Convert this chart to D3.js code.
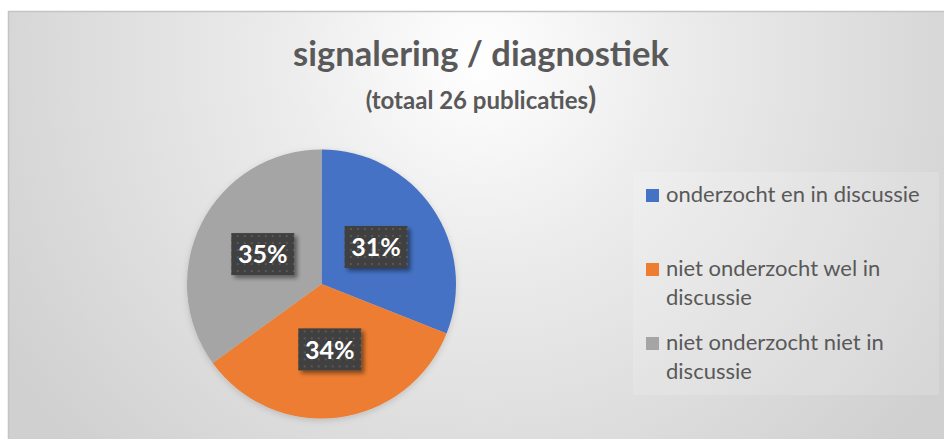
<!DOCTYPE html>
<html>
<head>
<meta charset="utf-8">
<script src="https://cdn.jsdelivr.net/npm/d3@7"></script>
<style>
  html, body { margin: 0; padding: 0; background: #fff; }
  svg { display: block; }
</style>
</head>
<body>
<div id="chart"></div>
<script>
// data
var categories = ["onderzocht en in discussie", "niet onderzocht wel in discussie", "niet onderzocht niet in discussie"];
var values = [31, 34, 35];
var legendLines = [["onderzocht en in discussie"], ["niet onderzocht wel in", "discussie"], ["niet onderzocht niet in", "discussie"]];
var sliceColors = ["#4472C4", "#ED7D31", "#A5A5A5"];

var W = 944, H = 439;
var font = "Lato, 'Open Sans', sans-serif";

var svg = d3.select("#chart").append("svg")
    .attr("width", W)
    .attr("height", H);

var defs = svg.append("defs");

// chart area background
var grad = defs.append("radialGradient")
    .attr("id", "bg")
    .attr("gradientUnits", "userSpaceOnUse")
    .attr("cx", 480).attr("cy", 60).attr("r", 560);
grad.append("stop").attr("offset", "0%").attr("stop-color", "#ffffff");
grad.append("stop").attr("offset", "35%").attr("stop-color", "#ececec");
grad.append("stop").attr("offset", "100%").attr("stop-color", "#d0d0d0");

// dotted fill of the label boxes
var pat = defs.append("pattern")
    .attr("id", "dots")
    .attr("patternUnits", "userSpaceOnUse")
    .attr("width", 7).attr("height", 7);
pat.append("rect").attr("width", 7).attr("height", 7).attr("fill", "#404040");
pat.append("rect").attr("x", 2).attr("y", 2).attr("width", 2).attr("height", 2).attr("fill", "#585858");

var shadow = defs.append("filter").attr("id", "shadow")
    .attr("x", "-30%").attr("y", "-30%").attr("width", "160%").attr("height", "160%");
shadow.append("feDropShadow")
    .attr("dx", 3).attr("dy", 3).attr("stdDeviation", 2)
    .attr("flood-color", "#000").attr("flood-opacity", 0.45);

var pieShadow = defs.append("filter").attr("id", "pieShadow")
    .attr("x", "-20%").attr("y", "-20%").attr("width", "140%").attr("height", "140%");
pieShadow.append("feDropShadow")
    .attr("dx", 0).attr("dy", 2).attr("stdDeviation", 3)
    .attr("flood-color", "#000").attr("flood-opacity", 0.15);

svg.append("rect")
    .attr("x", 8.5).attr("y", 11.5)
    .attr("width", W).attr("height", H)
    .attr("fill", "url(#bg)")
    .attr("stroke", "#c4c4c4")
    .attr("stroke-width", 1.5);

// title
svg.append("text")
    .attr("x", 481).attr("y", 66)
    .attr("text-anchor", "middle")
    .attr("font-family", font)
    .attr("font-weight", "bold")
    .attr("font-size", 34.5)
    .attr("fill", "#595959")
    .text("signalering / diagnostiek");

var sub = svg.append("text")
    .attr("x", 481).attr("y", 109)
    .attr("text-anchor", "middle")
    .attr("font-family", font)
    .attr("font-weight", "bold")
    .attr("font-size", 24)
    .attr("fill", "#595959");
sub.append("tspan").text("(totaal 26 publicaties");
sub.append("tspan").attr("font-size", 30).text(")");

// pie
var cx = 321.5, cy = 284, radius = 134.5;

var pie = d3.pie().sort(null).value(function(d) { return d; });
var arcs = pie(values);
var arc = d3.arc().innerRadius(0).outerRadius(radius);
var labelArc = d3.arc().innerRadius(radius * 0.49).outerRadius(radius * 0.49);
var color = d3.scaleOrdinal().domain(categories).range(sliceColors);

var g = svg.append("g").attr("transform", "translate(" + cx + "," + cy + ")");

g.append("g").attr("filter", "url(#pieShadow)")
  .selectAll("path")
    .data(arcs)
    .enter()
    .append("path")
    .attr("d", arc)
    .attr("fill", function(d, i) { return color(categories[i]); });

var total = d3.sum(values);
var labels = g.selectAll("g.lbl")
    .data(arcs)
    .enter()
    .append("g")
    .attr("class", "lbl")
    .attr("transform", function(d) { return "translate(" + labelArc.centroid(d) + ")"; });

labels.append("rect")
    .attr("x", -31.5).attr("y", -21)
    .attr("width", 63).attr("height", 42)
    .attr("fill", "url(#dots)")
    .attr("filter", "url(#shadow)");

labels.append("text")
    .attr("text-anchor", "middle")
    .attr("dy", "0.37em")
    .attr("font-family", font)
    .attr("font-weight", "bold")
    .attr("font-size", 25)
    .attr("fill", "#ffffff")
    .text(function(d) { return Math.round(d.value / total * 100) + "%"; });

// legend
svg.append("rect")
    .attr("x", 633).attr("y", 172)
    .attr("width", 306).attr("height", 223)
    .attr("fill", "#ffffff")
    .attr("fill-opacity", 0.15);

var ly = d3.scalePoint().domain(categories).range([202, 350]);

var items = svg.selectAll("g.legend")
    .data(categories)
    .enter()
    .append("g")
    .attr("class", "legend")
    .attr("transform", function(d) { return "translate(646," + ly(d) + ")"; });

items.append("rect")
    .attr("x", 0).attr("y", -13)
    .attr("width", 13).attr("height", 13)
    .attr("fill", function(d) { return color(d); });

items.append("text")
    .attr("font-family", font)
    .attr("font-size", 22)
    .attr("fill", "#595959")
    .each(function(d, i) {
        var t = d3.select(this);
        legendLines[i].forEach(function(line, k) {
            t.append("tspan").attr("x", 20).attr("y", k * 29).text(line);
        });
    });
</script>
</body>
</html>
